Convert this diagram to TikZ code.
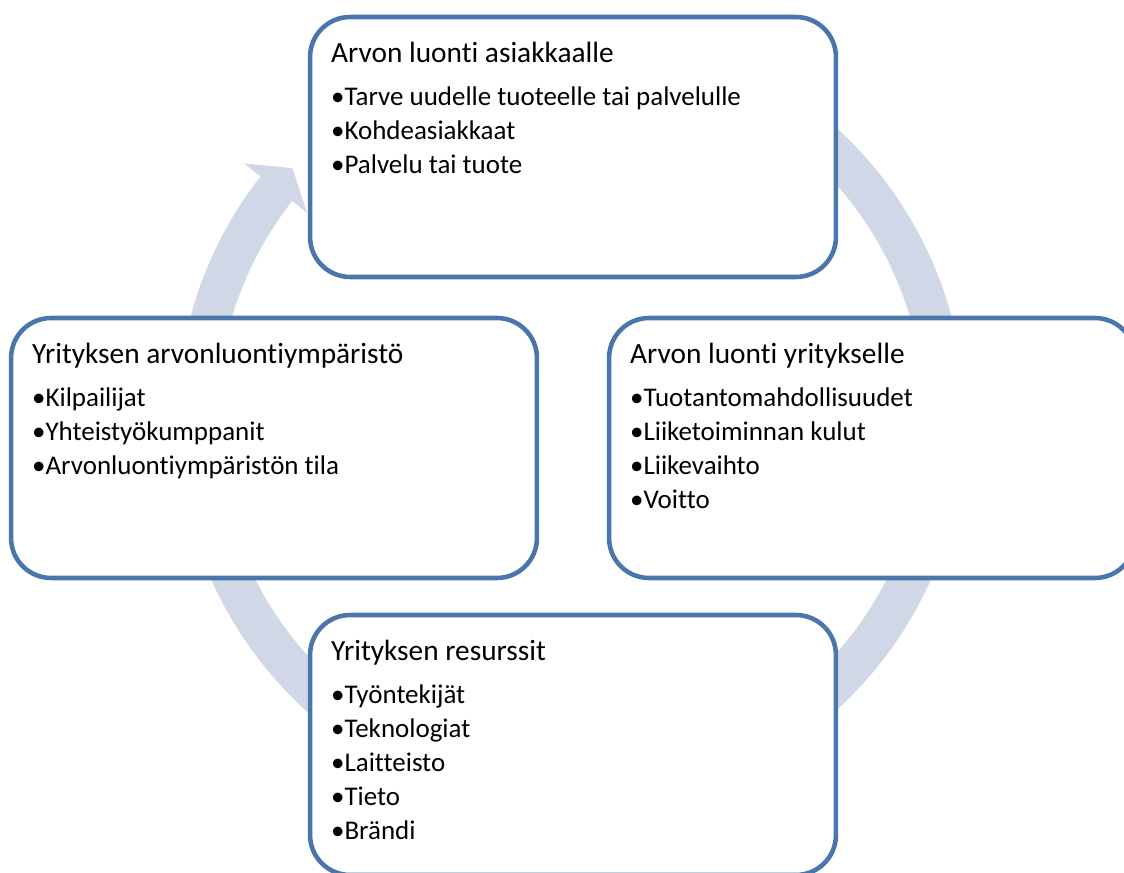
\documentclass[tikz,border=0pt]{standalone}
\usepackage{fontspec}
\setmainfont{Carlito}[Ligatures=NoCommon]
\usepackage{xcolor}
\usepackage{tikz}
\usetikzlibrary{calc}
\definecolor{boxblue}{RGB}{74,118,172}
\definecolor{ringgray}{RGB}{208,216,232}

\begin{document}
\begin{tikzpicture}[x=0.02cm, y=0.02cm,
    box/.style={draw=boxblue, line width=2.6pt, fill=white, rounded corners=0.8cm,
      minimum width=10.52cm, minimum height=5.2cm, inner sep=0pt},
    head/.style={anchor=base west, inner sep=0pt, font=\fontsize{16.7}{20}\selectfont},
    item/.style={anchor=base west, inner sep=0pt, font=\fontsize{15.35}{19}\selectfont}]
    \useasboundingbox (0,0) rectangle (1124,872);
    \clip (0,0) rectangle (1124,872);
    % ring arrow
    \fill[ringgray, shift={(571,453)}] (80:394) arc[start angle=80, end angle=-218, radius=394]
      -- (142:415) -- (138:375) -- (142:335) -- (142:354)
      arc[start angle=-218, end angle=80, radius=354] -- cycle;
    % boxes
    \node[box] (asiakas) at (573,725) {};
    \node[box] (ymparisto) at (274,424) {};
    \node[box] (yritys) at (872,424) {};
    \node[box] (resurssit) at (573,127) {};
    % box texts
    \node[head] (asiakas-h) at ($(asiakas.north west)+(23,-48)$) {Arvon luonti asiakkaalle};
    \foreach \t [count=\i] in {Tarve uudelle tuoteelle tai palvelulle, Kohdeasiakkaat, Palvelu tai tuote}{
      \node[item] (asiakas-\i) at ($(asiakas.north west)+(23,-57-34*\i)$) {•\t};
    }
    \node[head] (ymparisto-h) at ($(ymparisto.north west)+(23,-48)$) {Yrityksen arvonluontiympäristö};
    \foreach \t [count=\i] in {Kilpailijat, Yhteistyökumppanit, Arvonluontiympäristön tila}{
      \node[item] (ymparisto-\i) at ($(ymparisto.north west)+(23,-57-34*\i)$) {•\t};
    }
    \node[head] (yritys-h) at ($(yritys.north west)+(23,-48)$) {Arvon luonti yritykselle};
    \foreach \t [count=\i] in {Tuotantomahdollisuudet, Liiketoiminnan kulut, Liikevaihto, Voitto}{
      \node[item] (yritys-\i) at ($(yritys.north west)+(23,-57-34*\i)$) {•\t};
    }
    \node[head] (resurssit-h) at ($(resurssit.north west)+(23,-48)$) {Yrityksen resurssit};
    \foreach \t [count=\i] in {Työntekijät, Teknologiat, Laitteisto, Tieto, Brändi}{
      \node[item] (resurssit-\i) at ($(resurssit.north west)+(23,-57-34*\i)$) {•\t};
    }
\end{tikzpicture}
\end{document}
